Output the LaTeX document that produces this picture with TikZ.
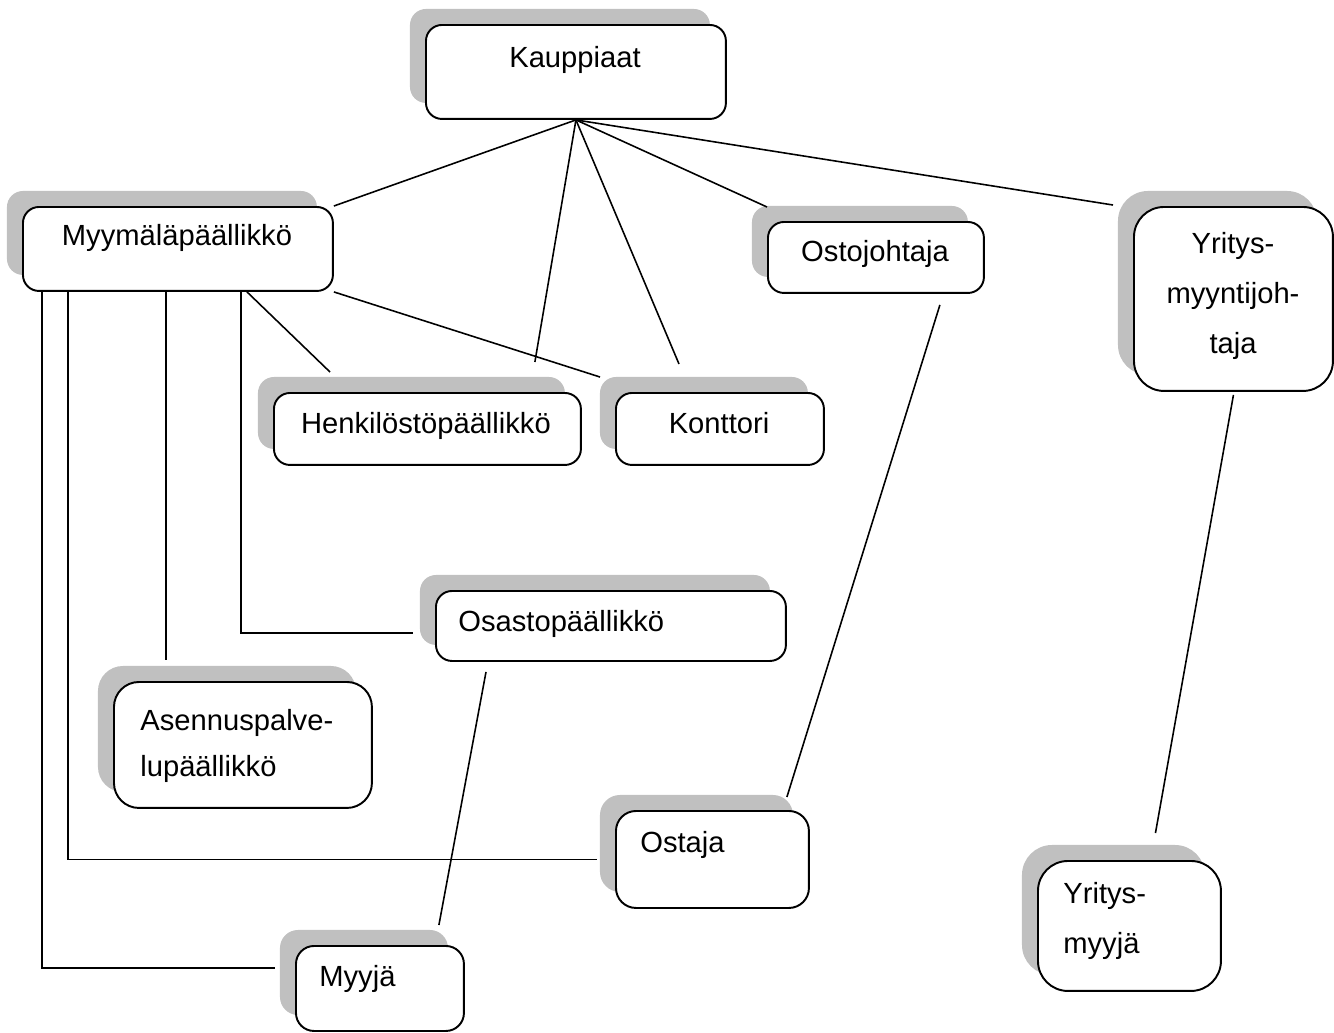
\documentclass[tikz,border=0pt]{standalone}
\usepackage{fontspec}
\setmainfont{Liberation Sans}
\usetikzlibrary{shadows,calc}
\definecolor{shade}{HTML}{C0C0C0}

\begin{document}
\begin{tikzpicture}[x=0.02cm,y=-0.02cm,
    box/.style={draw,fill=white,line width=1.1pt,rounded corners=0.32cm,anchor=north west,inner sep=0pt,
      drop shadow={shadow xshift=-0.32cm,shadow yshift=0.32cm,fill=shade,opacity=1}},
    txt/.style={inner sep=0pt,font=\fontsize{16.6}{28.4}\selectfont},
    link/.style={line width=0.9pt}]
  \useasboundingbox (0,0) rectangle (1334,1032);
  % boxes
  \node[box,minimum width=6cm,minimum height=1.88cm] (kaup) at (425,24) {};
  \node[box,minimum width=6.2cm,minimum height=1.68cm] (myym) at (22,206) {};
  \node[box,minimum width=6.14cm,minimum height=1.44cm] (henk) at (273,392) {};
  \node[box,minimum width=4.16cm,minimum height=1.44cm] (kont) at (615,392) {};
  \node[box,minimum width=4.32cm,minimum height=1.42cm] (ostoj) at (767,221) {};
  \node[box,minimum width=3.98cm,minimum height=3.68cm,rounded corners=0.6cm] (yrjoht) at (1133,206) {};
  \node[box,minimum width=7cm,minimum height=1.4cm] (osas) at (435,590) {};
  \node[box,minimum width=5.16cm,minimum height=2.52cm,rounded corners=0.5cm] (asen) at (113,681) {};
  \node[box,minimum width=3.86cm,minimum height=1.94cm,rounded corners=0.4cm] (ostaja) at (615,810) {};
  \node[box,minimum width=3.36cm,minimum height=1.7cm,rounded corners=0.36cm] (myyja) at (295,945) {};
  \node[box,minimum width=3.66cm,minimum height=2.6cm,rounded corners=0.6cm] (yrmyy) at (1037,860) {};
  % texts (base of a multi-line node is its last line)
  \node[txt,anchor=base] (kaupT) at (575,67) {Kauppiaat};
  \node[txt,anchor=base] (myymT) at (177,245) {Myymäläpäällikkö};
  \node[txt,anchor=base] (henkT) at (426,433) {Henkilöstöpäällikkö};
  \node[txt,anchor=base] (kontT) at (719,433) {Konttori};
  \node[txt,anchor=base] (ostojT) at (875,261) {Ostojohtaja};
  \node[txt,anchor=base,align=center] (yrjohtT) at (1233,353) {Yritys-\\myyntijoh-\\taja};
  \node[txt,anchor=base west] (osasT) at (458,631) {Osastopäällikkö};
  \node[txt,anchor=base west,align=left,font=\fontsize{16.6}{26}\selectfont] (asenT) at (140,776) {Asennuspalve-\\lupäällikkö};
  \node[txt,anchor=base west] (ostajaT) at (640,852) {Ostaja};
  \node[txt,anchor=base west] (myyjaT) at (319,986) {Myyjä};
  \node[txt,anchor=base west,align=left] (yrmyyT) at (1063,953) {Yritys-\\myyjä};
  % connectors
  \draw[link] (kaup.south) -- (myym.north east);
  \draw[link] (kaup.south) -- ($(henk.north east)+(-47,-30)$);
  \draw[link] (kaup.south) -- ($(kont.north west)+(64,-28)$);
  \draw[link] (kaup.south) -- ($(ostoj.north west)+(0,-14)$);
  \draw[link] (kaup.south) -- ($(yrjoht.north west)+(-20,-1)$);
  \draw[link] (myym.south east) -- ($(kont.north west)+(-15,-15)$);
  \draw[link] ($(myym.south west)+(225,0)$) -- ($(henk.north west)+(57,-20)$);
  \draw[link] ($(myym.south west)+(20,0)$) |- ($(myyja.north west)+(-20,23)$);
  \draw[link] ($(myym.south west)+(46,0)$) |- ($(ostaja.west)+(-18,0)$);
  \draw[link] ($(myym.south west)+(144,0)$) -- ($(asen.north west)+(53,-21)$);
  \draw[link] ($(myym.south west)+(219,0)$) |- ($(osas.west)+(-22,7)$);
  \draw[link] ($(osas.south west)+(51,10)$) -- ($(myyja.north east)+(-26,-20)$);
  \draw[link] ($(ostoj.south east)+(-45,11)$) -- ($(ostaja.north east)+(-23,-13)$);
  \draw[link] ($(yrjoht.south)+(0,3)$) -- ($(yrmyy.north)+(26,-27)$);
\end{tikzpicture}
\end{document}
